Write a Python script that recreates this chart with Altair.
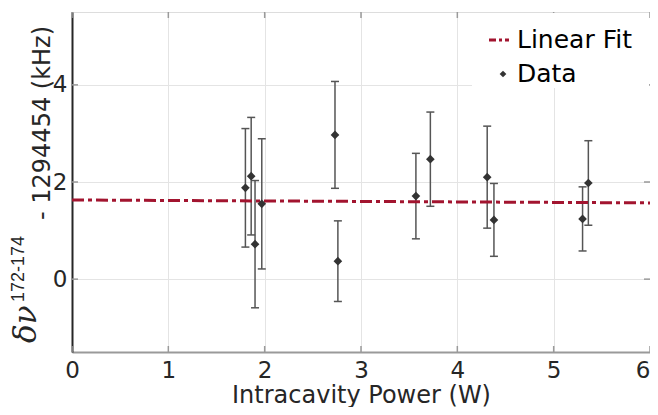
import altair as alt
import pandas as pd

# ---- data ----
power = [1.80, 1.86, 1.90, 1.97, 2.73, 2.76, 3.57, 3.72, 4.31, 4.38, 5.30, 5.36]
shift = [1.88, 2.12, 0.72, 1.55, 2.97, 0.37, 1.71, 2.47, 2.10, 1.22, 1.24, 1.98]
err = [1.22, 1.21, 1.31, 1.34, 1.10, 0.83, 0.88, 0.97, 1.05, 0.75, 0.66, 0.87]
fit_power = [0, 6]
fit_shift = [1.63, 1.57]
x_ticks = [0, 1, 2, 3, 4, 5, 6]
y_ticks = [0, 2, 4]
legend_labels = ["Linear Fit", "Data"]

df = pd.DataFrame({
    "power": power,
    "shift": shift,
    "lo": [s - e for s, e in zip(shift, err)],
    "hi": [s + e for s, e in zip(shift, err)],
})
fit = pd.DataFrame({"power": fit_power, "shift": fit_shift})
one = pd.DataFrame({"a": [0]})

W, H = 578, 340
FONT = "DejaVu Sans"
TXT = "#262626"
FRAME = "#9a9a9a"
RED = "#A2142F"
DARK = "#333333"

xs = alt.Scale(domain=[0, 6], nice=False, zero=False)
ys = alt.Scale(domain=[-1.5, 5.5], nice=False, zero=False)

xaxis = alt.Axis(values=x_ticks, format="d", title="Intracavity Power (W)", ticks=False,
                 grid=True, gridColor="#e4e4e4", gridWidth=1,
                 domainColor=FRAME, domainWidth=2, labelFlush=False, labelOverlap=False,
                 labelAlign={"condition": {"test": "datum.value >= 6", "value": "right"}, "value": "center"},
                 labelFont=FONT, labelFontSize=23, labelColor=TXT, labelPadding=7,
                 titleFont=FONT, titleFontSize=24, titleColor=TXT, titleFontWeight="normal",
                 titleBaseline="alphabetic", titleY=50)
yaxis = alt.Axis(values=y_ticks, format="d", title=None, ticks=False,
                 grid=True, gridColor="#e4e4e4", gridWidth=1, labelFlush=False,
                 domainColor=TXT, domainWidth=2,
                 labelFont=FONT, labelFontSize=23, labelColor=TXT, labelPadding=5)

bars = alt.Chart(df).mark_rule(color="#555555", strokeWidth=1.5).encode(
    x=alt.X("power:Q", scale=xs, axis=xaxis),
    y=alt.Y("lo:Q", scale=ys, axis=yaxis),
    y2="hi:Q",
)
cap_hi = alt.Chart(df).mark_rule(color="#555555", strokeWidth=1.5, xOffset=-4, x2Offset=4).encode(
    x=alt.X("power:Q", scale=xs), x2="power:Q", y=alt.Y("hi:Q", scale=ys))
cap_lo = alt.Chart(df).mark_rule(color="#555555", strokeWidth=1.5, xOffset=-4, x2Offset=4).encode(
    x=alt.X("power:Q", scale=xs), x2="power:Q", y=alt.Y("lo:Q", scale=ys))
pts = alt.Chart(df).mark_point(shape="diamond", filled=True, size=75, color=DARK, opacity=1).encode(
    x=alt.X("power:Q", scale=xs), y=alt.Y("shift:Q", scale=ys))
line = alt.Chart(fit).mark_line(color=RED, strokeWidth=3, strokeDash=[12, 4, 4, 4]).encode(
    x=alt.X("power:Q", scale=xs), y=alt.Y("shift:Q", scale=ys))

xt = pd.DataFrame({"t": x_ticks})
yt = pd.DataFrame({"t": y_ticks})
tick_b = alt.Chart(xt).mark_rule(color=FRAME, strokeWidth=1.5).encode(
    x=alt.X("t:Q", scale=xs), y=alt.value(H), y2=alt.value(H - 6))
tick_t = alt.Chart(xt).mark_rule(color=FRAME, strokeWidth=1.5).encode(
    x=alt.X("t:Q", scale=xs), y=alt.value(0), y2=alt.value(6))
tick_l = alt.Chart(yt).mark_rule(color=FRAME, strokeWidth=1.5).encode(
    y=alt.Y("t:Q", scale=ys), x=alt.value(0), x2=alt.value(6))
tick_r = alt.Chart(yt).mark_rule(color=FRAME, strokeWidth=1.5).encode(
    y=alt.Y("t:Q", scale=ys), x=alt.value(W - 6), x2=alt.value(W))

# legend
leg_bg = alt.Chart(one).mark_rect(color="white").encode(
    x=alt.value(400), x2=alt.value(W - 1), y=alt.value(1), y2=alt.value(76))
leg_line = alt.Chart(one).mark_rule(color=RED, strokeWidth=3, strokeDash=[7, 3, 3, 3]).encode(
    x=alt.value(417), x2=alt.value(437), y=alt.value(28))
leg_pt = alt.Chart(one).mark_point(shape="diamond", filled=True, size=45, color=DARK, opacity=1).encode(
    x=alt.value(431), y=alt.value(62))
leg_t1 = alt.Chart(one).mark_text(align="left", baseline="middle", font=FONT, fontSize=25, color="black").encode(
    x=alt.value(445), y=alt.value(28), text=alt.value(legend_labels[0]))
leg_t2 = alt.Chart(one).mark_text(align="left", baseline="middle", font=FONT, fontSize=25, color="black").encode(
    x=alt.value(445), y=alt.value(62), text=alt.value(legend_labels[1]))

# y-axis title with math-like parts
yt1 = alt.Chart(one).mark_text(angle=270, align="left", baseline="alphabetic", font="DejaVu Serif",
                               fontStyle="italic", fontSize=31, color=TXT).encode(
    x=alt.value(-36), y=alt.value(331), text=alt.value("δν"))
yt2 = alt.Chart(one).mark_text(angle=270, align="left", baseline="alphabetic", font="Liberation Sans",
                               fontSize=18, color=TXT).encode(
    x=alt.value(-48), y=alt.value(290), text=alt.value("172-174"))
yt3 = alt.Chart(one).mark_text(angle=270, align="left", baseline="alphabetic", font=FONT,
                               fontSize=24, color=TXT).encode(
    x=alt.value(-22), y=alt.value(208), text=alt.value("- 1294454 (kHz)"))

chart = alt.layer(
    bars, cap_hi, cap_lo, line, pts,
    tick_b, tick_t, tick_l, tick_r,
    leg_bg, leg_line, leg_pt, leg_t1, leg_t2,
    yt1, yt2, yt3,
).properties(
    width=W, height=H,
    autosize=alt.AutoSizeParams(type="none"),
    padding={"left": 64, "top": 4, "right": 0, "bottom": 55},
).configure_view(stroke=FRAME, strokeWidth=2).configure(background="white")

chart.save("out.html", embed_options={"renderer": "svg", "actions": False})
